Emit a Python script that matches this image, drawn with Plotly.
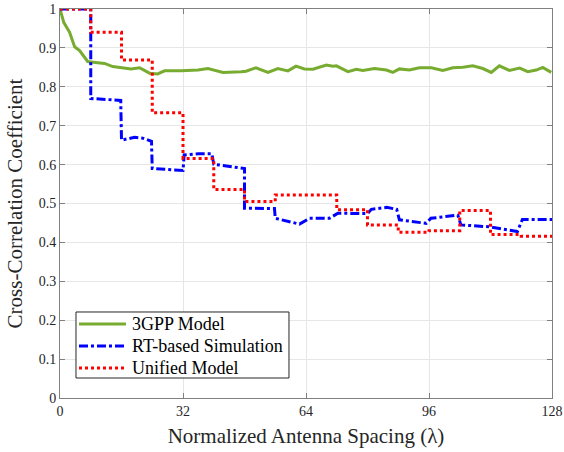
import plotly.graph_objects as go

# 3GPP model (green)
gpp_x = [0, 1, 2.5, 3.8, 5.1, 7.2, 9.8, 11.6, 13.7, 15.9, 18.5, 20.7, 23.3, 25.4, 27.2, 31.5, 35.9, 38.5, 42.4, 47.1,
         48.4, 51.0, 54.1, 56.7, 59.3, 61.4, 63.6, 65.8, 69.3, 71.0, 71.9, 74.9, 77.1, 78.8, 81.8, 84.9, 86.6, 88.3, 90.9, 93.5,
         96.6, 99.6, 102.2, 104.8, 107.4, 110.0, 112.2, 114.3, 116.9, 119.6, 121.7, 123.9, 125.6, 127.8]
gpp_y = [1.0, 0.965, 0.940, 0.903, 0.893, 0.865, 0.862, 0.860, 0.852, 0.850, 0.846, 0.849, 0.835, 0.833, 0.841, 0.841, 0.843, 0.847, 0.837, 0.839,
         0.840, 0.849, 0.837, 0.847, 0.841, 0.853, 0.846, 0.845, 0.856, 0.853, 0.854, 0.839, 0.845, 0.842, 0.847, 0.843, 0.837, 0.846, 0.843, 0.849,
         0.849, 0.842, 0.849, 0.850, 0.854, 0.847, 0.837, 0.854, 0.842, 0.848, 0.839, 0.843, 0.850, 0.837]

# RT-based simulation (blue)
rt_x = [0, 8, 8, 12, 15.8, 16, 19.4, 21.5, 23.8, 24, 28, 32, 32.3, 36, 39.5, 40, 45, 48, 48, 55.8,
        56, 59.7, 62.3, 64.9, 70.1, 72.3, 80, 81, 85, 87.6, 88.3, 95.3, 96.5, 103.5, 104.3, 111.7, 119, 120.3, 128]
rt_y = [1, 1, 0.770, 0.768, 0.765, 0.663, 0.670, 0.668, 0.660, 0.590, 0.587, 0.585, 0.625, 0.628, 0.628, 0.601, 0.594, 0.590, 0.488, 0.487,
        0.462, 0.453, 0.447, 0.462, 0.462, 0.475, 0.474, 0.485, 0.490, 0.485, 0.458, 0.449, 0.462, 0.470, 0.445, 0.440, 0.428, 0.459, 0.459]

# Unified model (red, stepwise)
uni_x = [0, 8, 16, 24, 32, 40, 48, 56, 64, 72, 80, 88, 96, 104, 112, 120, 128]
uni_y = [1.0, 0.940, 0.869, 0.733, 0.616, 0.536, 0.505, 0.522, 0.522, 0.484, 0.445, 0.426, 0.430, 0.482, 0.420, 0.416, 0.416]

x_ticks = [0, 32, 64, 96, 128]
y_ticks = [0, 0.1, 0.2, 0.3, 0.4, 0.5, 0.6, 0.7, 0.8, 0.9, 1]
y_tick_labels = ["0", "0.1", "0.2", "0.3", "0.4", "0.5", "0.6", "0.7", "0.8", "0.9", "1"]

series_names = ["3GPP Model", "RT-based Simulation", "Unified Model"]
series_colors = ["#77AC30", "#0000FF", "#FF0000"]
series_dash = ["solid", "dashdot", "dot"]

FONT = "Liberation Serif, Times New Roman, serif"

fig = go.Figure()
fig.add_trace(go.Scatter(x=gpp_x, y=gpp_y, mode="lines", name=series_names[0],
                         line=dict(color=series_colors[0], width=3, dash=series_dash[0])))
fig.add_trace(go.Scatter(x=rt_x, y=rt_y, mode="lines", name=series_names[1],
                         line=dict(color=series_colors[1], width=3, dash=series_dash[1])))
fig.add_trace(go.Scatter(x=uni_x, y=uni_y, mode="lines", name=series_names[2],
                         line=dict(color=series_colors[2], width=3, dash=series_dash[2], shape="hv")))

axis_common = dict(
    showline=True, linecolor="#808080", linewidth=1, mirror="ticks",
    ticks="inside", ticklen=5, tickcolor="#808080",
    showgrid=True, gridcolor="#E6E6E6", gridwidth=1, zeroline=False,
    tickfont=dict(family=FONT, size=14, color="#262626"),
    automargin=False,
)

fig.update_xaxes(range=[0, 128], tickvals=x_ticks, ticktext=[str(v) for v in x_ticks],
                 title=dict(text="Normalized Antenna Spacing (λ)", font=dict(family=FONT, size=21, color="#262626"), standoff=10),
                 **axis_common)
fig.update_yaxes(range=[0, 1], tickvals=y_ticks, ticktext=y_tick_labels,
                 title=dict(text="Cross-Correlation Coefficient", font=dict(family=FONT, size=21, color="#262626"), standoff=10),
                 **axis_common)

# Legend drawn as a boxed panel (MATLAB style) inside the axes, in paper coordinates
box = dict(x0=0.0325, x1=0.4654, y0=0.0514, y1=0.2211)
row_y = [0.1902, 0.1337, 0.0771]
sym_x0, sym_x1, text_x = 0.0386, 0.1341, 0.1423

shapes = [dict(type="rect", xref="paper", yref="paper", **box,
               line=dict(color="#262626", width=1), fillcolor="white", layer="above")]
annotations = []
for name, color, dash, yy in zip(series_names, series_colors, series_dash, row_y):
    shapes.append(dict(type="line", xref="paper", yref="paper", x0=sym_x0, x1=sym_x1, y0=yy, y1=yy,
                       line=dict(color=color, width=3, dash=dash), layer="above"))
    annotations.append(dict(xref="paper", yref="paper", x=text_x, y=yy, xanchor="left", yanchor="middle",
                            text=name, showarrow=False,
                            font=dict(family=FONT, size=18, color="#000000")))

fig.update_layout(
    width=564, height=452,
    margin=dict(l=60, r=12, t=9, b=54, autoexpand=False),
    plot_bgcolor="white", paper_bgcolor="white",
    font=dict(family=FONT, color="#262626"),
    showlegend=False,
    shapes=shapes,
    annotations=annotations,
)

fig.write_html("out.html")
